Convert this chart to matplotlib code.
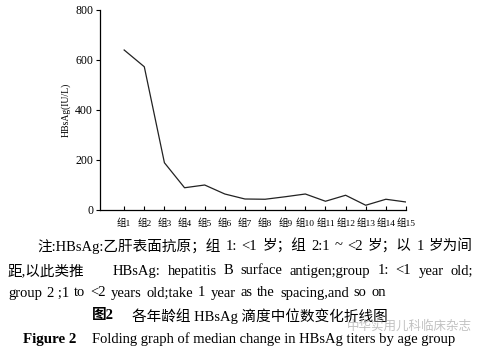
import matplotlib
matplotlib.use("Agg")
import matplotlib.pyplot as plt

plt.rcParams['font.family'] = ['Liberation Serif', 'Noto Sans CJK SC', 'DejaVu Sans']

groups = [f"组{i}" for i in range(1, 16)]
values = [640, 573, 189, 89, 100, 64, 44, 43, 53, 64, 35, 59, 19, 43, 32]
yticks = [0, 200, 400, 600, 800]

fig = plt.figure(figsize=(4.8, 3.52), dpi=100)
ax = fig.add_axes([100/480, 1-210/352, 306/480, 200/352])
x = list(range(1, 16))
ax.plot(x, values, color='#222222', lw=0.9)
ax.set_xlim(-0.2, 15)
ax.set_ylim(0, 800)
ax.set_xticks(x)
ax.set_xticklabels(groups, fontsize=6.8)
ax.set_yticks(yticks)
ax.set_yticklabels([str(v) for v in yticks], fontsize=8.5)
ax.tick_params(axis='x', direction='in', length=3, width=0.8, pad=6)
ax.tick_params(axis='y', direction='out', length=3, width=0.8, pad=2)
for s in ['top', 'right']:
    ax.spines[s].set_visible(False)
for s in ['left', 'bottom']:
    ax.spines[s].set_linewidth(0.9)
ax.set_ylabel("HBsAg(IU/L)", fontsize=7, labelpad=3)

renderer = fig.canvas.get_renderer()

def t(xp, yp, s, **kw):
    return fig.text(xp/480, 1-yp/352, s, va='center', **kw)

def justify(tokens, x0, x1, yp, fs, weights=None):
    texts = [t(0, yp, s, fontsize=fs) for s in tokens]
    widths = [tx.get_window_extent(renderer).width for tx in texts]
    n = len(tokens) - 1
    if weights is None:
        weights = [1.0] * n
    gap = (x1 - x0 - sum(widths)) / sum(weights)
    xp = x0
    for i, tx in enumerate(texts):
        tx.set_x(xp / 480)
        xp += widths[i]
        if i < n:
            xp += gap * weights[i]

fs = 10.5
line1 = ["注:HBsAg:乙肝表面抗原；组", "1:", "<1", "岁；组", "2:1", "~", "<2",
         "岁；以", "1", "岁为间"]
line2 = ["距,以此类推", "HBsAg:", "hepatitis", "B", "surface", "antigen;group",
         "1:", "<1", "year", "old;"]
line3 = ["group", "2 ;1", "to", "<2", "years", "old;take", "1", "year",
         "as", "the", "spacing,and", "so", "on"]
justify(line1, 37, 473, 246, fs)
justify(line2, 8, 473, 271, fs, weights=[4] + [1] * (len(line2) - 2))
justify(line3, 8, 386, 293, fs)
t(92, 316, "图2", fontsize=10.5, fontweight='bold')
t(132, 316, "各年龄组 HBsAg 滴度中位数变化折线图", fontsize=10.5)
t(23, 339, "Figure 2", fontsize=10.8, fontweight='bold')
t(92, 339, "Folding graph of median change in HBsAg titers by age group", fontsize=10.5)
t(347, 327, "中华实用儿科临床杂志", fontsize=9, color='#999999', alpha=0.6)

fig.savefig("out.png", dpi=100)
